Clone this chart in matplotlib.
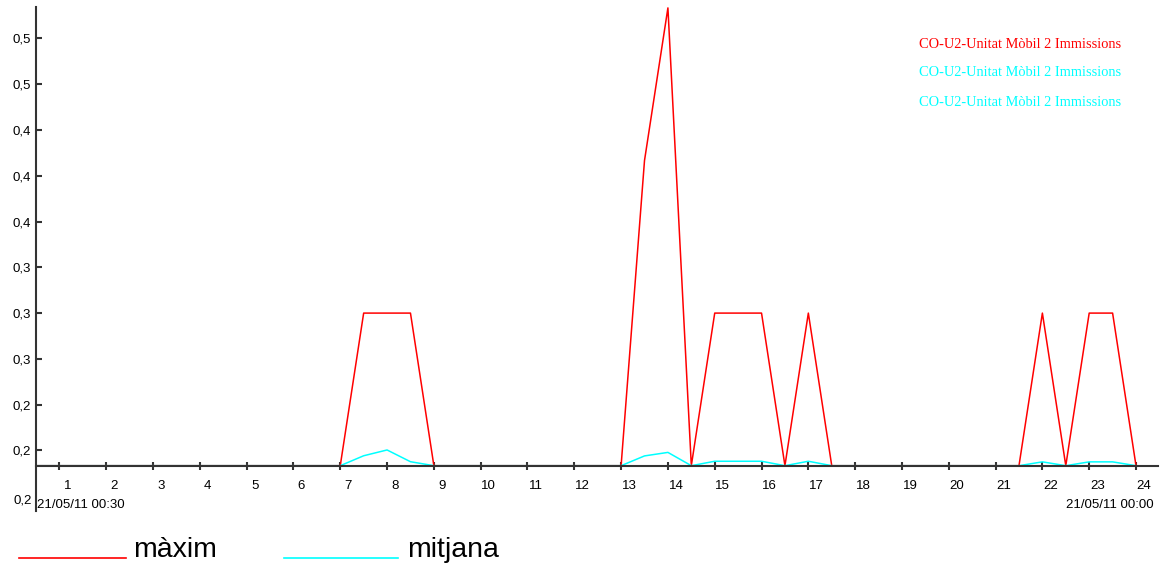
import numpy as np
import matplotlib.pyplot as plt
import matplotlib.transforms as mtransforms
from matplotlib.lines import Line2D

# half-hourly readings, 21/05/11
hours = [0.5 + 0.5 * i for i in range(48)]

maxim = [0.2] * 48
mitjana = [0.2] * 48

# màxim
for h, v in [(7.5, 0.3), (8.0, 0.3), (8.5, 0.3),
             (13.5, 0.4), (14.0, 0.5),
             (15.0, 0.3), (15.5, 0.3), (16.0, 0.3),
             (17.0, 0.3), (22.0, 0.3), (23.0, 0.3), (23.5, 0.3)]:
    maxim[hours.index(h)] = v

# mitjana
for h, v in [(7.5, 0.2065), (8.0, 0.2103), (8.5, 0.2026),
             (13.5, 0.2064), (14.0, 0.2087),
             (15.0, 0.2029), (15.5, 0.2029), (16.0, 0.2029),
             (17.0, 0.2029), (22.0, 0.2025), (23.0, 0.2025), (23.5, 0.2025)]:
    mitjana[hours.index(h)] = v

hour_ticks = list(range(1, 25))
y_ticks = [0.48, 0.45, 0.42, 0.39, 0.36, 0.33, 0.30, 0.27, 0.24, 0.21]
y_labels = ["0,5", "0,5", "0,4", "0,4", "0,4", "0,3", "0,3", "0,3", "0,2", "0,2"]
series_name = "CO-U2-Unitat Mòbil 2 Immissions"

W, H = 1163, 567
fig = plt.figure(figsize=(W / 100, H / 100), dpi=100)
ax = fig.add_axes([36 / W, 1 - 511 / H, (1158 - 36) / W, (511 - 7.3) / H])

# axis line is drawn over the flat parts of both series
ax.plot(hours, maxim, color="#ff0000", lw=1.1)
ax.plot(hours, mitjana, color="#00ffff", lw=1.1)

ax.set_xlim(0.5, 24.47)
ax.set_ylim(0.1703, 0.5004)

ax.spines["top"].set_visible(False)
ax.spines["right"].set_visible(False)
ax.spines["bottom"].set_position(("data", 0.2))
for s in ["left", "bottom"]:
    ax.spines[s].set_linewidth(1.5)
    ax.spines[s].set_color("#333333")

tick_font = dict(family="Liberation Sans", size=9.5)

ax.set_yticks(y_ticks)
ax.set_yticklabels(y_labels, **tick_font)
ax.tick_params(axis="y", direction="in", length=4, width=1.5, color="#333333", pad=4)

ax.set_xticks(hour_ticks)
ax.set_xticklabels([str(h) for h in hour_ticks], **tick_font)
ax.tick_params(axis="x", direction="inout", length=6, width=1.5, color="#333333", pad=7)
offset = mtransforms.ScaledTranslation(8 / 100, 0, fig.dpi_scale_trans)
for lab in ax.get_xticklabels():
    lab.set_transform(lab.get_transform() + offset)

# bottom-left value label and date labels
ax.text(-4 / 1122, 0.1775, "0,2", transform=ax.get_yaxis_transform(),
        ha="right", va="center", **tick_font)
ax.text(0.52, 0.1745, "21/05/11 00:30", ha="left", va="center", **tick_font)
ax.text(24.38, 0.1745, "21/05/11 00:00", ha="right", va="center", **tick_font)

# series legend inside the chart
for i, c in enumerate(["#ff0000", "#00ffff", "#00ffff"]):
    fig.text(919 / W, 1 - (44 + i * 29) / H, series_name, color=c,
             family="Liberation Serif", size=10.4, va="center", ha="left")

# legend below the chart
fig.add_artist(Line2D([19 / W, 126 / W], [1 - 557.7 / H] * 2, color="#ff0000", lw=1.2))
fig.text(133 / W, 1 - 556.7 / H, "màxim", family="Liberation Sans", size=20.5,
         va="baseline", ha="left")
fig.add_artist(Line2D([284 / W, 398 / W], [1 - 557.7 / H] * 2, color="#00ffff", lw=1.2))
fig.text(407 / W, 1 - 556.7 / H, "mitjana", family="Liberation Sans", size=20.5,
         va="baseline", ha="left")

fig.savefig("out.png", dpi=100)
